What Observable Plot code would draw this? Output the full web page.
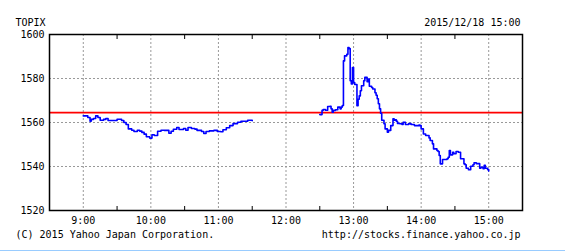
<!DOCTYPE html>
<html>
<head>
<meta charset="utf-8">
<script src="https://cdn.jsdelivr.net/npm/d3@7"></script>
<script src="https://cdn.jsdelivr.net/npm/@observablehq/plot@0.6"></script>
<style>
  html, body { margin: 0; padding: 0; background: #fff; }
  #chart svg { display: block; }
  #bar { width: 565px; height: 0; border-top: 1px solid #99ccff; }
</style>
</head>
<body>
<div id="chart"></div>
<div id="bar"></div>
<script>
const title = "TOPIX";
const stamp = "2015/12/18 15:00";
const copyright = "(C) 2015 Yahoo Japan Corporation.";
const source = "http://stocks.finance.yahoo.co.jp";
const prevClose = 1564.5;
const yTicks = [1520, 1540, 1560, 1580, 1600];
const hourTicks = ["9:00", "10:00", "11:00", "12:00", "13:00", "14:00", "15:00"];
const halfTicks = ["9:30", "10:30", "11:30", "12:30", "13:30", "14:30"];

const amTimes = ["9:00","9:04","9:06","9:07","9:09","9:11","9:13","9:15","9:18","9:20","9:22","9:25","9:30","9:34","9:36","9:38","9:40","9:43","9:45","9:48","9:50","9:52","9:54","9:56","9:59","10:01","10:03","10:06","10:09","10:12","10:16","10:18","10:20","10:23","10:25","10:29","10:31","10:33","10:36","10:39","10:41","10:45","10:47","10:49","10:52","10:56","10:59","11:02","11:04","11:07","11:10","11:13","11:17","11:20","11:26","11:30"];
const amValues = [1563.0,1562.3,1560.6,1561.4,1561.8,1563.0,1562.3,1561.0,1561.4,1561.8,1560.9,1560.9,1561.5,1560.9,1560.0,1559.1,1557.1,1556.5,1555.9,1556.5,1556.1,1555.5,1554.7,1553.5,1552.9,1554.4,1554.1,1556.0,1556.5,1556.4,1555.1,1556.0,1556.9,1557.7,1556.8,1557.3,1556.5,1557.7,1557.3,1557.0,1556.4,1555.9,1555.0,1555.9,1556.2,1556.4,1555.9,1555.8,1556.7,1557.6,1558.6,1559.5,1560.1,1560.6,1561.0,1560.8];

const pmTimes = ["12:30","12:32","12:33","12:35","12:37","12:39","12:40","12:41","12:42","12:44","12:46","12:48","12:49","12:50","12:51","12:52","12:54","12:55","12:56","12:57","12:58","12:59","13:00","13:01","13:03","13:04","13:05","13:06","13:07","13:09","13:10","13:11","13:12","13:13","13:14","13:16","13:17","13:19","13:20","13:21","13:22","13:23","13:24","13:25","13:27","13:28","13:30","13:31","13:33","13:35","13:36","13:37","13:38","13:39","13:41","13:43","13:44","13:46","13:49","13:51","13:54","13:58","13:59","14:00","14:02","14:04","14:07","14:08","14:10","14:11","14:14","14:15","14:16","14:17","14:19","14:23","14:24","14:25","14:26","14:28","14:29","14:31","14:33","14:35","14:38","14:39","14:40","14:42","14:44","14:46","14:47","14:49","14:52","14:53","14:55","14:56","14:57","14:59","15:00"];
const pmValues = [1563.6,1565.5,1565.9,1565.6,1567.3,1567.4,1566.2,1564.7,1565.5,1565.8,1567.0,1566.2,1567.0,1567.7,1588.0,1590.3,1591.0,1594.1,1593.6,1579.0,1577.5,1585.0,1578.2,1577.3,1567.6,1570.6,1572.1,1574.4,1576.7,1579.0,1580.5,1580.6,1578.5,1579.7,1576.5,1575.9,1575.2,1573.5,1572.4,1570.8,1568.5,1566.2,1564.2,1561.0,1559.4,1557.1,1555.6,1556.4,1558.6,1561.7,1561.0,1561.2,1560.6,1559.6,1559.4,1559.1,1560.1,1559.1,1559.5,1559.1,1558.6,1558.8,1558.6,1557.1,1554.8,1554.1,1553.0,1551.8,1550.3,1548.0,1547.3,1546.8,1545.0,1541.2,1543.2,1543.5,1544.2,1547.3,1545.3,1546.5,1545.8,1546.8,1546.5,1543.5,1541.2,1540.8,1539.2,1538.5,1540.1,1540.8,1541.7,1541.3,1539.2,1539.6,1539.0,1540.5,1539.2,1538.6,1537.9,1537.3];

const t = s => { const [h, m] = s.split(":").map(Number); return new Date(Date.UTC(2015, 11, 18, h, m)); };
const rows = [
  ...amTimes.map((s, i) => ({time: t(s), value: amValues[i], session: "am"})),
  ...pmTimes.map((s, i) => ({time: t(s), value: pmValues[i], session: "pm"}))
];

const font = "'DejaVu Sans Mono', monospace";
const W = 565, H = 250;
const chart = Plot.plot({
  width: W, height: H,
  marginLeft: 49, marginRight: 43, marginTop: 34, marginBottom: 40,
  style: {fontFamily: font, fontSize: "10px", color: "#000", background: "#fff"},
  x: {type: "utc", domain: [t("8:30"), t("15:30")]},
  y: {domain: [1520, 1600]},
  marks: [
    Plot.gridX(hourTicks.map(t), {stroke: "#999", strokeOpacity: 1, strokeDasharray: "2,2"}),
    Plot.gridY(yTicks.slice(1, -1), {stroke: "#999", strokeOpacity: 1, strokeDasharray: "2,2"}),
    Plot.axisX(halfTicks.map(t), {anchor: "bottom", tickSize: -4, tickFormat: () => "", label: null, stroke: "#000"}),
    Plot.axisX(halfTicks.map(t), {anchor: "top", tickSize: -4, tickFormat: () => "", label: null, stroke: "#000"}),
    Plot.axisX(hourTicks.map(t), {anchor: "bottom", tickSize: 0, tickPadding: 6, tickFormat: d3.utcFormat("%-H:%M"), label: null, fill: "#000"}),
    Plot.axisY(yTicks, {anchor: "left", tickSize: 0, tickPadding: 5, tickFormat: d3.format("d"), label: null, fill: "#000"}),
    Plot.ruleY([prevClose], {stroke: "#ff0000", strokeWidth: 1.6}),
    Plot.line(rows, {x: "time", y: "value", z: "session", curve: "step-after", stroke: "#0000ff", strokeWidth: 1.6}),
    Plot.frame({stroke: "#000", strokeWidth: 1.5}),
    Plot.text([title], {frameAnchor: "top-left", dx: -34, dy: -12, textAnchor: "start", lineAnchor: "middle", fill: "#000"}),
    Plot.text([stamp], {frameAnchor: "top-right", dx: -2, dy: -12, textAnchor: "end", lineAnchor: "middle", fill: "#000"}),
    Plot.text([copyright], {frameAnchor: "bottom-left", dx: -34, dy: 24, textAnchor: "start", lineAnchor: "middle", fill: "#000"}),
    Plot.text([source], {frameAnchor: "bottom-right", dx: -2, dy: 24, textAnchor: "end", lineAnchor: "middle", fill: "#000"})
  ]
});
document.getElementById("chart").appendChild(chart);
</script>
</body>
</html>
